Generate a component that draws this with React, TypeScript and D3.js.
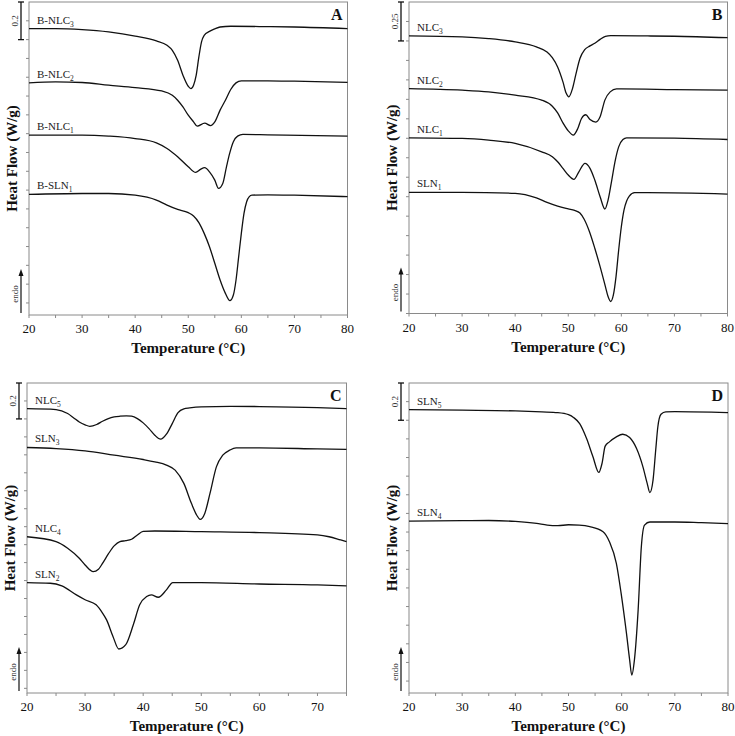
import React from "react";
import * as d3 from "d3";

type Pt = [number, number];

// ---- Panel A : temperature (°C), heat flow (W/g, shifted) ----
const A_BNLC3: Pt[] = [
  [20, -0.142], [25, -0.142], [30, -0.147], [35, -0.159], [40, -0.181], [44, -0.207],
  [46, -0.23], [47, -0.257], [48, -0.31], [49, -0.389], [50, -0.448], [50.5, -0.46],
  [51, -0.442], [51.5, -0.389], [52, -0.292], [52.5, -0.212], [53, -0.177], [54, -0.156],
  [55, -0.143], [56, -0.133], [58, -0.129], [65, -0.131], [70, -0.133], [80, -0.142],
];
const A_BNLC2: Pt[] = [
  [20, -0.43], [25, -0.425], [30, -0.428], [35, -0.442], [40, -0.455], [45, -0.473],
  [47, -0.496], [48, -0.522], [49, -0.558], [50, -0.602], [51, -0.637], [51.7, -0.66],
  [53.1, -0.644], [54.2, -0.657], [55, -0.637], [56, -0.575], [57, -0.522], [58, -0.465],
  [59, -0.43], [60, -0.419], [65, -0.419], [70, -0.421], [80, -0.427],
];
const A_BNLC1: Pt[] = [
  [20, -0.708], [30, -0.708], [35, -0.713], [40, -0.726], [44, -0.749], [46, -0.779],
  [48, -0.823], [50, -0.876], [51.4, -0.906], [52.3, -0.89], [53.1, -0.881], [54, -0.903],
  [55, -0.947], [55.7, -0.991], [56.5, -0.965], [57.2, -0.876], [57.8, -0.805],
  [58.5, -0.743], [59.3, -0.713], [60.3, -0.704], [65, -0.706], [80, -0.713],
];
const A_BSLN1: Pt[] = [
  [20, -1.023], [30, -1.018], [35, -1.018], [40, -1.027], [44, -1.053], [46, -1.08],
  [48, -1.103], [50, -1.12], [51, -1.138], [52, -1.173], [53, -1.23], [54, -1.301],
  [55, -1.389], [56, -1.478], [57, -1.549], [57.85, -1.588], [58.5, -1.558], [59, -1.478],
  [59.5, -1.354], [60, -1.23], [60.5, -1.124], [61, -1.062], [61.5, -1.035], [62, -1.027],
  [65, -1.025], [70, -1.027], [80, -1.035],
];

// ---- Panel B ----
const B_NLC3: Pt[] = [
  [20, -0.218], [30, -0.224], [35, -0.235], [40, -0.256], [44, -0.288], [46, -0.321],
  [47, -0.357], [48, -0.417], [49, -0.513], [49.6, -0.585], [50.1, -0.609], [50.8, -0.556],
  [51.4, -0.47], [52.2, -0.363], [53.1, -0.306], [54.1, -0.282], [55, -0.265], [56, -0.24],
  [57, -0.22], [58, -0.216], [65, -0.218], [70, -0.22], [80, -0.229],
];
const B_NLC2: Pt[] = [
  [20, -0.556], [30, -0.566], [35, -0.577], [40, -0.598], [45, -0.63], [47, -0.669],
  [48, -0.712], [49, -0.776], [50, -0.827], [50.95, -0.855], [51.8, -0.812], [52.5, -0.748],
  [53.3, -0.724], [54.1, -0.754], [55.2, -0.771], [56, -0.737], [56.9, -0.63], [57.9, -0.577],
  [59.1, -0.558], [60, -0.558], [70, -0.562], [80, -0.566],
];
const B_NLC1: Pt[] = [
  [20, -0.872], [30, -0.876], [35, -0.887], [40, -0.908], [45, -0.962], [47, -0.994],
  [48, -1.026], [49, -1.068], [50, -1.111], [51.07, -1.139], [52, -1.09], [53.15, -1.036],
  [54.1, -1.068], [55, -1.143], [56, -1.25], [56.9, -1.329], [57.5, -1.272], [58.2, -1.143],
  [58.8, -1.026], [59.5, -0.93], [60.3, -0.883], [61, -0.872], [70, -0.874], [80, -0.883],
];
const B_SLN1: Pt[] = [
  [20, -1.222], [30, -1.222], [40, -1.229], [44, -1.258], [46, -1.286], [48, -1.31],
  [50, -1.328], [51.2, -1.338], [52.2, -1.355], [53, -1.395], [54, -1.475], [55, -1.581],
  [56, -1.699], [57, -1.827], [57.5, -1.891], [58, -1.923], [58.5, -1.881], [59, -1.763],
  [59.5, -1.592], [60, -1.443], [60.5, -1.336], [61, -1.278], [61.5, -1.246], [62.5, -1.224],
  [65, -1.224], [80, -1.233],
];

// ---- Panel C ----
const C_NLC5: Pt[] = [
  [20, -0.143], [25, -0.148], [27, -0.17], [28, -0.193], [29, -0.217], [30, -0.233],
  [30.8, -0.241], [32, -0.231], [33, -0.213], [34, -0.198], [35, -0.189], [36, -0.185],
  [37.1, -0.183], [38, -0.185], [39, -0.198], [40, -0.222], [41, -0.254], [42, -0.291],
  [43, -0.313], [44, -0.285], [45, -0.226], [46, -0.165], [47, -0.144], [48, -0.139],
  [50, -0.133], [55, -0.13], [60, -0.131], [70, -0.137], [75, -0.143],
];
const C_SLN3: Pt[] = [
  [20, -0.359], [25, -0.365], [30, -0.378], [35, -0.402], [40, -0.426], [42, -0.439],
  [44, -0.457], [45.5, -0.485], [47, -0.559], [48.3, -0.67], [49.2, -0.735], [49.8, -0.759],
  [50.6, -0.726], [51.5, -0.615], [52.6, -0.467], [53.7, -0.402], [54.9, -0.374],
  [56, -0.361], [60, -0.361], [70, -0.367], [75, -0.37],
];
const C_NLC4: Pt[] = [
  [20, -0.856], [25, -0.883], [27, -0.92], [29, -0.976], [30, -1.013], [31.4, -1.05],
  [32.3, -1.037], [33, -1.004], [34, -0.952], [35, -0.907], [36, -0.883], [37, -0.878],
  [38, -0.87], [39, -0.846], [40, -0.826], [42, -0.824], [50, -0.828], [60, -0.833],
  [70, -0.846], [72, -0.856], [74, -0.874], [75, -0.883],
];
const C_SLN2: Pt[] = [
  [20, -1.111], [24, -1.115], [26, -1.13], [28.5, -1.18], [30, -1.207], [31.9, -1.235], [33, -1.281],
  [33.7, -1.319], [34.8, -1.411], [35.8, -1.481], [37, -1.457], [38.3, -1.346],
  [39.4, -1.235], [40.6, -1.189], [41.4, -1.18], [42.6, -1.193], [44, -1.152], [45.1, -1.111],
  [50, -1.111], [60, -1.119], [70, -1.124], [75, -1.13],
];

// ---- Panel D ----
const D_SLN5: Pt[] = [
  [20, -0.143], [30, -0.146], [40, -0.15], [45, -0.155], [48, -0.159], [50, -0.17],
  [51, -0.186], [52.1, -0.218], [53.4, -0.298], [54.6, -0.396], [55.7, -0.48],
  [56.3, -0.432], [56.9, -0.339], [57.7, -0.316], [59, -0.289], [60.2, -0.275],
  [61.5, -0.293], [62.8, -0.352], [64, -0.45], [64.8, -0.539], [65.3, -0.588],
  [65.9, -0.521], [66.4, -0.361], [66.8, -0.236], [67.4, -0.168], [68.3, -0.155],
  [70, -0.154], [80, -0.159],
];
const D_SLN4: Pt[] = [
  [20, -0.741], [30, -0.739], [35, -0.738], [40, -0.743], [44, -0.754], [46, -0.763],
  [48, -0.766], [50, -0.761], [52, -0.763], [54, -0.771], [56.5, -0.798], [57.7, -0.852],
  [59, -0.968], [59.9, -1.129], [60.9, -1.343], [61.5, -1.486], [61.9, -1.568],
  [62.4, -1.486], [63.1, -1.218], [63.7, -0.879], [64.3, -0.763], [65.3, -0.746],
  [70, -0.746], [75, -0.75], [80, -0.755],
];

const X_LABELS_80 = [20, 30, 40, 50, 60, 70, 80];
const X_LABELS_75 = [20, 30, 40, 50, 60, 70];

interface Series { name: string; sub: string; data: Pt[] }
interface Panel {
  letter: string;
  x0: number; x1: number; y0: number; y1: number;
  xMax: number; yMin: number; tickStep: number;
  bar: number; barLabel: string;
  xLabels: number[];
  series: Series[];
}

const PANELS: Panel[] = [
  {
    letter: "A", x0: 29, x1: 347.5, y0: 2, y1: 315, xMax: 80, yMin: -1.664, tickStep: 0.1,
    bar: 0.2, barLabel: "0.2", xLabels: X_LABELS_80,
    series: [
      { name: "B-NLC", sub: "3", data: A_BNLC3 },
      { name: "B-NLC", sub: "2", data: A_BNLC2 },
      { name: "B-NLC", sub: "1", data: A_BNLC1 },
      { name: "B-SLN", sub: "1", data: A_BSLN1 },
    ],
  },
  {
    letter: "B", x0: 409, x1: 727.5, y0: 2, y1: 313.5, xMax: 80, yMin: -2.0, tickStep: 0.125,
    bar: 0.25, barLabel: "0.25", xLabels: X_LABELS_80,
    series: [
      { name: "NLC", sub: "3", data: B_NLC3 },
      { name: "NLC", sub: "2", data: B_NLC2 },
      { name: "NLC", sub: "1", data: B_NLC1 },
      { name: "SLN", sub: "1", data: B_SLN1 },
    ],
  },
  {
    letter: "C", x0: 27, x1: 346.5, y0: 383, y1: 693, xMax: 75, yMin: -1.726, tickStep: 0.1,
    bar: 0.2, barLabel: "0.2", xLabels: X_LABELS_75,
    series: [
      { name: "NLC", sub: "5", data: C_NLC5 },
      { name: "SLN", sub: "3", data: C_SLN3 },
      { name: "NLC", sub: "4", data: C_NLC4 },
      { name: "SLN", sub: "2", data: C_SLN2 },
    ],
  },
  {
    letter: "D", x0: 409, x1: 728, y0: 383, y1: 693, xMax: 80, yMin: -1.664, tickStep: 0.1,
    bar: 0.2, barLabel: "0.2", xLabels: X_LABELS_80,
    series: [
      { name: "SLN", sub: "5", data: D_SLN5 },
      { name: "SLN", sub: "4", data: D_SLN4 },
    ],
  },
];

const FONT = "'Liberation Serif', 'Times New Roman', serif";
const AXIS = "#8a8a8a";

function PanelView({ p }: { p: Panel }) {
  const x = d3.scaleLinear().domain([20, p.xMax]).range([p.x0, p.x1]);
  const y = d3.scaleLinear().domain([p.yMin, 0]).range([p.y1, p.y0]);
  const line = d3.line<Pt>().x((d) => x(d[0])).y((d) => y(d[1])).curve(d3.curveMonotoneX);
  const minor = d3.range(20, p.xMax + 0.01, 5);
  const nY = Math.floor((-p.yMin) / p.tickStep + 1e-6);
  const yTicks = d3.range(1, nY + 1).map((k) => -k * p.tickStep);
  const bx = p.x0 - 8;
  const barTop = y(0);
  const barBot = y(-p.bar);
  const midY = (p.y0 + p.y1) / 2;
  return (
    <g>
      <rect x={p.x0} y={p.y0} width={p.x1 - p.x0} height={p.y1 - p.y0} fill="none" stroke={AXIS} strokeWidth={1} />
      {yTicks.map((t, i) => (
        <line key={"yt" + i} x1={p.x0 - 3} x2={p.x0} y1={y(t)} y2={y(t)} stroke={AXIS} strokeWidth={1} />
      ))}
      {minor.map((t, i) => (
        <line key={"xt" + i} x1={x(t)} x2={x(t)} y1={p.y1} y2={p.y1 + 3} stroke={AXIS} strokeWidth={1} />
      ))}
      {p.xLabels.map((t, i) => (
        <text key={"xl" + i} x={x(t)} y={p.y1 + 18} textAnchor="middle" fontFamily={FONT} fontSize={13} fill="#111">
          {t}
        </text>
      ))}
      <text x={(p.x0 + p.x1) / 2} y={p.y1 + 38} textAnchor="middle" fontFamily={FONT} fontSize={15} fontWeight="bold" fill="#111">
        Temperature (°C)
      </text>
      <text transform={`translate(${p.x0 - 12},${midY}) rotate(-90)`} textAnchor="middle" fontFamily={FONT} fontSize={15} fontWeight="bold" fill="#111">
        Heat Flow (W/g)
      </text>
      {/* scale bar */}
      <line x1={bx} x2={bx} y1={barTop} y2={barBot} stroke="#111" strokeWidth={1.3} />
      <line x1={bx - 3} x2={bx + 3} y1={barTop} y2={barTop} stroke="#111" strokeWidth={1.3} />
      <line x1={bx - 3} x2={bx + 3} y1={barBot} y2={barBot} stroke="#111" strokeWidth={1.3} />
      <text transform={`translate(${bx - 3},${(barTop + barBot) / 2}) rotate(-90)`} textAnchor="middle" fontFamily={FONT} fontSize={9} fill="#333">
        {p.barLabel}
      </text>
      {/* endo arrow */}
      <line x1={bx} x2={bx} y1={p.y1 - 2} y2={p.y1 - 40} stroke="#111" strokeWidth={1.2} />
      <path d={`M${bx - 2.5},${p.y1 - 39} L${bx},${p.y1 - 46} L${bx + 2.5},${p.y1 - 39} Z`} fill="#111" />
      <text transform={`translate(${bx - 3},${p.y1 - 21}) rotate(-90)`} textAnchor="middle" fontFamily={FONT} fontSize={9} fill="#333">
        endo
      </text>
      {/* curves */}
      {p.series.map((s, i) => (
        <g key={"s" + i}>
          <path d={line(s.data) || ""} fill="none" stroke="#111" strokeWidth={1.3} />
          <text x={p.x0 + 8} y={y(s.data[0][1]) - 5} fontFamily={FONT} fontSize={11} fill="#222">
            <tspan>{s.name}</tspan>
            <tspan fontSize={7.5} dy={3}>{s.sub}</tspan>
          </text>
        </g>
      ))}
      <text x={p.x1 - 5} y={p.y0 + 18} textAnchor="end" fontFamily={FONT} fontSize={16} fontWeight="bold" fill="#111">
        {p.letter}
      </text>
    </g>
  );
}

export default function App() {
  return (
    <svg width={735} height={736} style={{ position: "absolute", left: 0, top: 0, background: "#fff" }}>
      <rect x={0} y={0} width={735} height={736} fill="#fff" />
      {PANELS.map((p) => (
        <PanelView key={p.letter} p={p} />
      ))}
    </svg>
  );
}
